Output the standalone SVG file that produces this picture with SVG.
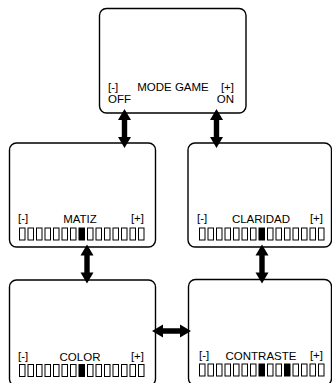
<svg xmlns="http://www.w3.org/2000/svg" xmlns:xlink="http://www.w3.org/1999/xlink" width="332" height="383" viewBox="0 0 332 383">
<style>
.box{fill:#fff;stroke:#000;stroke-width:1.4}
.t{font-family:"Liberation Sans",Arial,sans-serif;font-size:11.5px;fill:#000}
.m{text-anchor:middle}
.e{text-anchor:end}
.sq{fill:#fff;stroke:#000;stroke-width:1}
.f{fill:#000}
.arr{fill:#000}
</style>
<defs>
<path id="dbl" d="M0,-19.5 L6.5,-8.5 L2.7,-8.5 L2.7,8.5 L6.5,8.5 L0,19.5 L-6.5,8.5 L-2.7,8.5 L-2.7,-8.5 L-6.5,-8.5 Z"/>
<rect id="sq" x="0.5" y="0.5" width="5.5" height="12"/>
<g id="bar">
<use xlink:href="#sq" x="0"/><use xlink:href="#sq" x="8.5"/><use xlink:href="#sq" x="17"/><use xlink:href="#sq" x="25.5"/><use xlink:href="#sq" x="34"/><use xlink:href="#sq" x="42.5"/><use xlink:href="#sq" x="51"/><use xlink:href="#sq" x="68"/><use xlink:href="#sq" x="76.5"/><use xlink:href="#sq" x="93.5"/><use xlink:href="#sq" x="102"/><use xlink:href="#sq" x="110.5"/><use xlink:href="#sq" x="119"/>
</g>
</defs>
<g id="node-mode-game">
<rect class="box" x="99.5" y="8.5" width="146.5" height="104.5" rx="7"/>
<text class="t" x="108" y="91">[-]</text>
<text class="t m" x="173" y="91">MODE GAME</text>
<text class="t e" x="234" y="91">[+]</text>
<text class="t" x="108" y="103">OFF</text>
<text class="t e" x="234" y="103">ON</text>
</g>
<g id="node-matiz">
<rect class="box" x="9.5" y="143" width="146" height="104" rx="7"/>
<text class="t" x="18" y="222">[-]</text>
<text class="t m" x="80" y="223">MATIZ</text>
<text class="t e" x="144" y="222">[+]</text>
<g class="sq" transform="translate(19,227.5)"><use xlink:href="#bar"/><use xlink:href="#sq" x="59.5" class="f"/><use xlink:href="#sq" x="85"/></g>
</g>
<g id="node-claridad">
<rect class="box" x="188" y="143" width="143.5" height="104" rx="7"/>
<text class="t" x="197" y="222">[-]</text>
<text class="t m" x="261" y="223">CLARIDAD</text>
<text class="t e" x="323" y="222">[+]</text>
<g class="sq" transform="translate(199,227.5)"><use xlink:href="#bar"/><use xlink:href="#sq" x="59.5" class="f"/><use xlink:href="#sq" x="85"/></g>
</g>
<g id="node-color">
<rect class="box" x="9.5" y="280" width="146" height="106" rx="7"/>
<text class="t" x="18" y="359.5">[-]</text>
<text class="t m" x="80" y="360.5">COLOR</text>
<text class="t e" x="144" y="359.5">[+]</text>
<g class="sq" transform="translate(19,364)"><use xlink:href="#bar"/><use xlink:href="#sq" x="59.5" class="f"/><use xlink:href="#sq" x="85"/></g>
</g>
<g id="node-contraste">
<rect class="box" x="188.5" y="279.5" width="143" height="106" rx="7"/>
<text class="t" x="199" y="358.5">[-]</text>
<text class="t m" x="261" y="359.5">CONTRASTE</text>
<text class="t e" x="323" y="358.5">[+]</text>
<g class="sq" transform="translate(199,363.5)"><use xlink:href="#bar"/><use xlink:href="#sq" x="59.5" class="f"/><use xlink:href="#sq" x="85" class="f"/></g>
</g>
<g id="connectors" class="arr">
<use xlink:href="#dbl" transform="translate(124.5,128.5)"/>
<use xlink:href="#dbl" transform="translate(216.5,128.5)"/>
<use xlink:href="#dbl" transform="translate(87,264)"/>
<use xlink:href="#dbl" transform="translate(262,264)"/>
<use xlink:href="#dbl" transform="translate(171.5,331) rotate(90)"/>
</g>
</svg>
